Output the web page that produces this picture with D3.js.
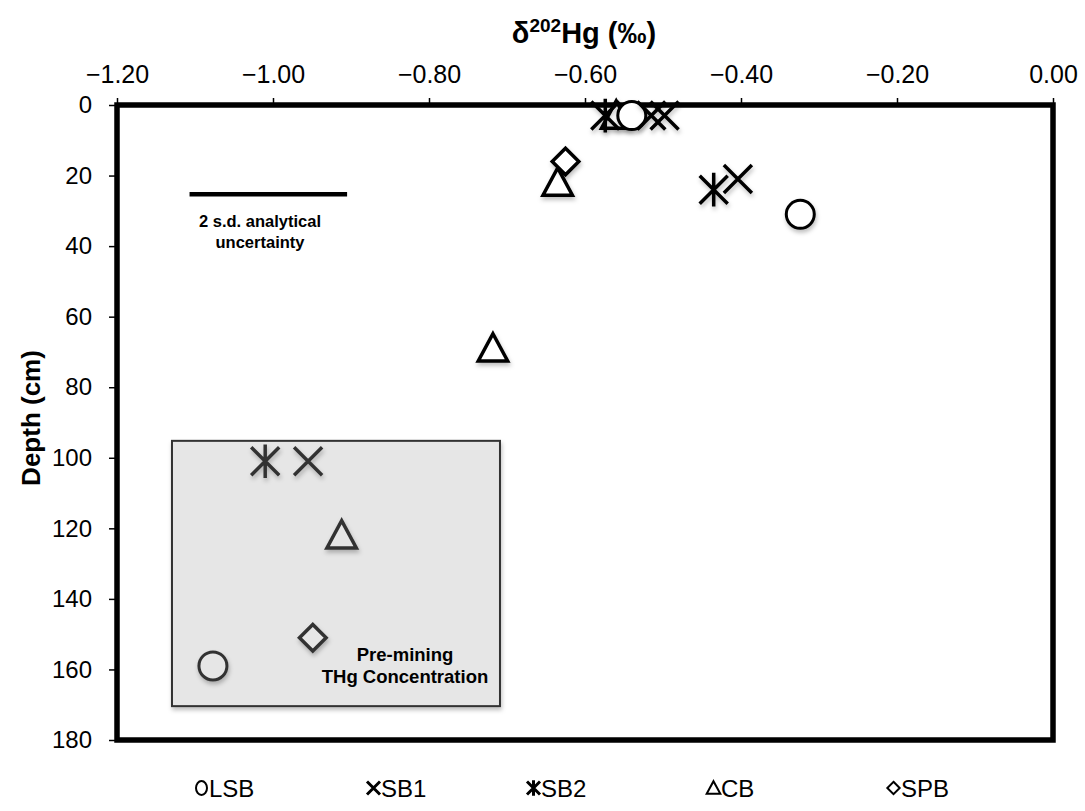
<!DOCTYPE html>
<html>
<head>
<meta charset="utf-8">
<style>
  body { margin: 0; background: #fff; }
  .tick text { font-family: "Liberation Sans", Arial, sans-serif; font-size: 25px; fill: #000; }
  .lbl { font-family: "Liberation Sans", Arial, sans-serif; font-weight: bold; }
</style>
</head>
<body>
<script src="https://cdn.jsdelivr.net/npm/d3@7"></script>
<script>
// data: delta202Hg (permil) vs depth (cm)
var lsb  = [[-0.54, 3], [-0.324, 31], [-1.077, 159]];
var sb1  = [[-0.515, 3], [-0.498, 3], [-0.404, 21], [-0.955, 101]];
var sb2  = [[-0.574, 3], [-0.435, 24], [-1.010, 101]];
var cb   = [[-0.56, 3], [-0.635, 22], [-0.718, 69], [-0.912, 122]];
var spb  = [[-0.625, 16], [-0.949, 151]];
var xTicks = [-1.2, -1.0, -0.8, -0.6, -0.4, -0.2, 0];
var yTicks = [0, 20, 40, 60, 80, 100, 120, 140, 160, 180];
var legendNames = ["LSB", "SB1", "SB2", "CB", "SPB"];

var W = 1085, H = 811;
var m = {left: 117, right: 1053, top: 105, bottom: 740};

var x = d3.scaleLinear().domain([-1.2, 0]).range([m.left, m.right]);
var y = d3.scaleLinear().domain([0, 180]).range([m.top, m.bottom]);

var svg = d3.select("body").append("svg")
    .attr("width", W).attr("height", H);

var defs = svg.append("defs");
var f = defs.append("filter").attr("id", "sh").attr("x", "-50%").attr("y", "-50%")
    .attr("width", "200%").attr("height", "200%");
f.append("feDropShadow").attr("dx", 1).attr("dy", 3).attr("stdDeviation", 2)
    .attr("flood-color", "#000").attr("flood-opacity", 0.25);

// inset box for pre-mining samples (data space)
svg.append("rect")
    .attr("x", x(-1.1295)).attr("y", y(95.2))
    .attr("width", x(-0.709) - x(-1.1295)).attr("height", y(170.4) - y(95.2))
    .attr("fill", "#e6e6e6").attr("stroke", "#333").attr("stroke-width", 2)
    .attr("filter", "url(#sh)");

svg.append("text").attr("class", "lbl").attr("x", 405).attr("y", 661)
    .attr("text-anchor", "middle").style("font-size", "18.5px").text("Pre-mining");
svg.append("text").attr("class", "lbl").attr("x", 405).attr("y", 683)
    .attr("text-anchor", "middle").style("font-size", "18.5px").text("THg Concentration");

// axes
var xAxis = svg.append("g")
    .attr("transform", "translate(0," + m.top + ")")
    .call(d3.axisTop(x).tickValues(xTicks).tickFormat(d3.format(".2f")).tickSize(7).tickPadding(15));
xAxis.select(".domain").remove();
xAxis.selectAll(".tick line").attr("stroke-width", 1.5);

var yAxis = svg.append("g")
    .attr("transform", "translate(" + m.left + ",0)")
    .call(d3.axisLeft(y).tickValues(yTicks).tickSize(8).tickPadding(17));
yAxis.select(".domain").remove();
yAxis.selectAll(".tick line").attr("stroke-width", 1.5);
yAxis.selectAll(".tick text").style("font-size", "24px");

// plot frame
svg.append("rect")
    .attr("x", m.left).attr("y", m.top)
    .attr("width", m.right - m.left).attr("height", m.bottom - m.top)
    .attr("fill", "none").attr("stroke", "#000").attr("stroke-width", 5.5);

// axis titles
var t = svg.append("text").attr("class", "lbl")
    .attr("x", 584).attr("y", 43).attr("text-anchor", "middle")
    .style("font-size", "29px");
t.append("tspan").text("δ");
t.append("tspan").attr("dy", -11).style("font-size", "19px").text("202");
t.append("tspan").attr("dy", 11).text("Hg (‰)");

svg.append("text").attr("class", "lbl")
    .attr("transform", "translate(40," + 418 + ") rotate(-90)")
    .attr("text-anchor", "middle").style("font-size", "26px").text("Depth (cm)");

// uncertainty bar (0.2 permil)
svg.append("line")
    .attr("x1", x(-1.107)).attr("x2", x(-0.905))
    .attr("y1", y(25.3)).attr("y2", y(25.3))
    .attr("stroke", "#000").attr("stroke-width", 4.5);
svg.append("text").attr("class", "lbl").attr("x", 260).attr("y", 227)
    .attr("text-anchor", "middle").style("font-size", "16.5px").text("2 s.d. analytical");
svg.append("text").attr("class", "lbl").attr("x", 260).attr("y", 248)
    .attr("text-anchor", "middle").style("font-size", "16.5px").text("uncertainty");

// marker shapes
var s = 14;
function shapePath(kind, r) {
  if (kind === "SB1") return "M" + (-r) + "," + (-r) + "L" + r + "," + r + "M" + (-r) + "," + r + "L" + r + "," + (-r);
  if (kind === "SB2") return "M" + (-r) + "," + (-r) + "L" + r + "," + r + "M" + (-r) + "," + r + "L" + r + "," + (-r) + "M0," + (-r * 1.2) + "L0," + (r * 1.2);
  if (kind === "CB") return "M0," + (-r * 1.05) + "L" + (r * 1.05) + "," + (r * 0.9) + "L" + (-r * 1.05) + "," + (r * 0.9) + "Z";
  if (kind === "SPB") return "M0," + (-r * 0.95) + "L" + (r * 0.95) + ",0L0," + (r * 0.95) + "L" + (-r * 0.95) + ",0Z";
  return null;
}

function drawSeries(data, kind) {
  var g = svg.append("g").attr("filter", "url(#sh)");
  data.forEach(function(d) {
    var col = d[1] > 90 ? "#333" : "#000";
    var fill = d[1] > 90 ? "#e6e6e6" : "#fff";
    if (kind === "LSB") {
      g.append("circle").attr("cx", x(d[0])).attr("cy", y(d[1])).attr("r", s)
        .attr("fill", fill).attr("stroke", col).attr("stroke-width", 3);
    } else {
      g.append("path").attr("d", shapePath(kind, s))
        .attr("transform", "translate(" + x(d[0]) + "," + y(d[1]) + ")")
        .attr("fill", kind === "SB1" || kind === "SB2" ? "none" : fill)
        .attr("stroke", col).attr("stroke-width", 3.5).attr("stroke-linejoin", "miter");
    }
  });
}
drawSeries(cb, "CB");
drawSeries(spb, "SPB");
drawSeries(sb2, "SB2");
drawSeries(lsb, "LSB");
drawSeries(sb1, "SB1");

// legend
var lx = [195, 367, 527, 707, 887];
legendNames.forEach(function(n, i) {
  var g = svg.append("g").attr("transform", "translate(" + lx[i] + ",797)");
  var r = 6.5;
  if (n === "LSB") {
    g.append("ellipse").attr("cx", r).attr("cy", -9).attr("rx", 5.5).attr("ry", 7)
      .attr("fill", "none").attr("stroke", "#000").attr("stroke-width", 2);
  } else {
    g.append("path").attr("d", shapePath(n, r))
      .attr("transform", "translate(" + r + ",-9)")
      .attr("fill", "none").attr("stroke", "#000")
      .attr("stroke-width", n === "SB1" || n === "SB2" ? 3 : 2);
  }
  g.append("text").attr("x", 2 * r + 1).attr("y", 0)
    .style("font-family", "Liberation Sans, Arial, sans-serif").style("font-size", "24px")
    .text(n);
});
</script>
</body>
</html>
